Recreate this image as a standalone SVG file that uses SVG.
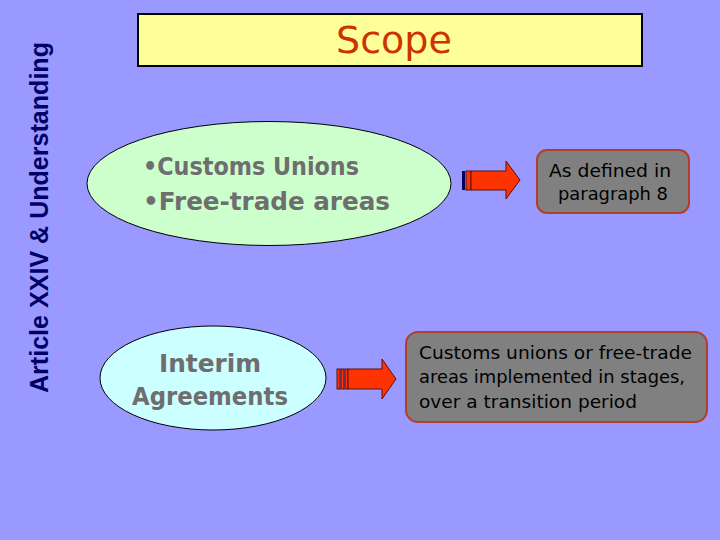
<svg xmlns="http://www.w3.org/2000/svg" width="720" height="540" viewBox="0 0 720 540">
<style>
.comic{font-family:"DejaVu Sans","Liberation Sans",sans-serif}
.oval{stroke:#000;stroke-width:1}
.otxt{fill:#6e6e6e;font-size:24px;font-weight:bold}
.box{fill:#808080;stroke:#B0402C;stroke-width:2}
.btxt{fill:#000;font-size:17px}
.arr{fill:#FF3300;stroke:#5a1010;stroke-width:1}
</style>
<rect x="0" y="0" width="720" height="540" fill="#9999FF"/>
<g id="side-title">
<text transform="translate(48,393) rotate(-90)" font-family="'Liberation Sans',Arial,sans-serif" font-weight="bold" font-size="25" fill="#000066" textLength="351" lengthAdjust="spacingAndGlyphs">Article XXIV &amp; Understanding</text>
</g>
<g id="title">
<rect x="138" y="14" width="504" height="52" fill="#FFFF99" stroke="#000" stroke-width="2"/>
<text class="comic" x="394" y="53" text-anchor="middle" font-size="38" fill="#CC3300">Scope</text>
</g>
<g id="ellipse-customs">
<ellipse class="oval" cx="269" cy="183.5" rx="182" ry="62" fill="#CCFFCC"/>
<text class="comic otxt" x="143" y="175" textLength="216" lengthAdjust="spacingAndGlyphs">•Customs Unions</text>
<text class="comic otxt" x="143" y="210" textLength="247" lengthAdjust="spacingAndGlyphs">•Free-trade areas</text>
</g>
<g id="ellipse-interim">
<ellipse class="oval" cx="213" cy="378" rx="113" ry="52" fill="#CCFFFF"/>
<text class="comic otxt" x="210" y="372" text-anchor="middle" textLength="102" lengthAdjust="spacingAndGlyphs">Interim</text>
<text class="comic otxt" x="210" y="405" text-anchor="middle" textLength="156" lengthAdjust="spacingAndGlyphs">Agreements</text>
</g>
<g id="box-paragraph8">
<rect class="box" x="537" y="150" width="152" height="63" rx="10"/>
<text class="comic btxt" x="610" y="177" text-anchor="middle" textLength="122" lengthAdjust="spacingAndGlyphs">As defined in</text>
<text class="comic btxt" x="613" y="200" text-anchor="middle" textLength="110" lengthAdjust="spacingAndGlyphs">paragraph 8</text>
</g>
<g id="box-stages">
<rect class="box" x="406" y="332" width="301" height="90" rx="12"/>
<text class="comic btxt" x="419" y="359" textLength="273" lengthAdjust="spacingAndGlyphs">Customs unions or free-trade</text>
<text class="comic btxt" x="419" y="383" textLength="266" lengthAdjust="spacingAndGlyphs">areas implemented in stages,</text>
<text class="comic btxt" x="419" y="408" textLength="218" lengthAdjust="spacingAndGlyphs">over a transition period</text>
</g>
<g id="connectors">
<g id="arrow1">
<rect x="462" y="171" width="3" height="19" fill="#000066"/>
<rect class="arr" x="466" y="171" width="5" height="19"/>
<path class="arr" d="M471,171 H506 V161 L520,180 L506,199 V190 H471 Z"/>
</g>
<g id="arrow2">
<rect class="arr" x="337" y="369" width="3" height="20"/>
<rect class="arr" x="341" y="369" width="3" height="20"/>
<rect class="arr" x="345" y="369" width="3" height="20"/>
<path class="arr" d="M348,369 H382 V359 L396,379 L382,399 V389 H348 Z"/>
</g>
</g>
</svg>
